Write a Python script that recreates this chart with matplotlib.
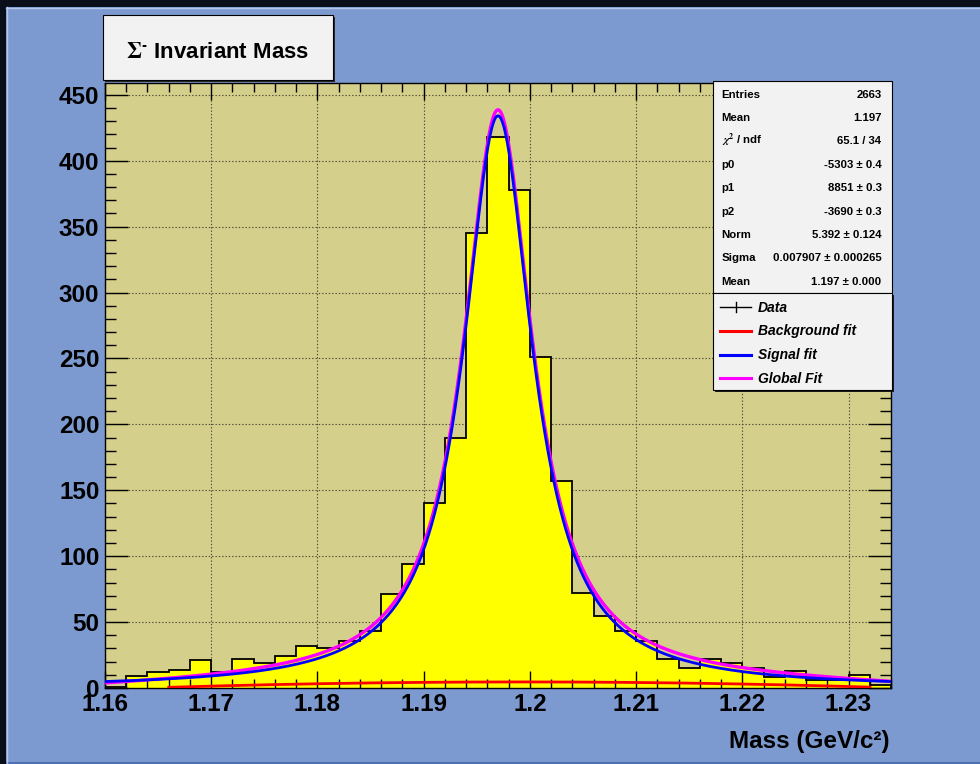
import numpy as np
import matplotlib
matplotlib.use("Agg")
import matplotlib.pyplot as plt
from matplotlib.patches import Rectangle
from matplotlib.lines import Line2D
from matplotlib.ticker import MultipleLocator, FuncFormatter

plt.rcParams["font.family"] = ["Liberation Sans", "DejaVu Sans"]
plt.rcParams["font.weight"] = "bold"
plt.rcParams["mathtext.fontset"] = "stix"

# Sigma- candidate mass histogram, 2 MeV bins
bin_low, bin_high, bin_width = 1.16, 1.234, 0.002
counts = [1, 9, 12, 14, 21, 12, 22, 19, 24, 32, 30, 36, 43, 71, 94, 140,
          190, 345, 418, 378, 251, 157, 72, 55, 43, 36, 22, 15, 22, 19, 15,
          8, 13, 6, 6, 10, 2]

# fit results: pol2 background + Breit-Wigner signal
entries = 2663
hist_mean = 1.197
chi2, ndf = 65.1, 34
p0, p0_err = -5303, 0.4
p1, p1_err = 8851, 0.3
p2, p2_err = -3690, 0.3
norm, norm_err = 5.392, 0.124
sigma, sigma_err = 0.007907, 0.000265
bw_mean, bw_mean_err = 1.197, 0.000
bkg_range = (1.166, 1.232)

legend_labels = ["Data", "Background fit", "Signal fit", "Global Fit"]

W, H = 980, 764
canvas_col = "#7D9AD0"
frame_col = "#D4CF8A"


def fx(x):
    return x / W


def fy(y):
    return 1 - y / H


def background(x):
    return p0 + p1 * x + p2 * x ** 2


def signal(x):
    return norm * (sigma / (2 * np.pi)) / ((x - bw_mean) ** 2 + sigma ** 2 / 4)


fig = plt.figure(figsize=(W / 100, H / 100), dpi=100, facecolor="#0a0e18")

# canvas panel
fig.add_artist(Rectangle((fx(6), 0), 1 - fx(6), fy(7), transform=fig.transFigure,
                         facecolor=canvas_col, edgecolor="none", zorder=-10))
fig.add_artist(Rectangle((fx(6), 0), 1 - fx(6), 2 / H, transform=fig.transFigure,
                         facecolor="#4C6EB2", edgecolor="none", zorder=-9))
fig.add_artist(Line2D([fx(6), 1], [fy(7.5), fy(7.5)], transform=fig.transFigure,
                      color="#B4C6EA", lw=1, zorder=-8))
fig.add_artist(Line2D([fx(6.5), fx(6.5)], [0, fy(7)], transform=fig.transFigure,
                      color="#B4C6EA", lw=1, zorder=-8))

ax = fig.add_axes([fx(105), fy(688), fx(891) - fx(105), (688 - 83) / H])
ax.set_facecolor(frame_col)
ax.set_xlim(bin_low, bin_high)
ax.set_ylim(0, 459)

edges = np.arange(len(counts) + 1) * bin_width + bin_low
ax.stairs(counts, edges, fill=True, color="#FFFF00", zorder=1)
ax.stairs(counts, edges, baseline=0, color="black", lw=1.3, zorder=1.5)

x = np.linspace(bin_low, bin_high, 800)
xb = np.linspace(*bkg_range, 400)
ax.plot(x, signal(x) + background(x), color="#FF00FF", lw=2.4, zorder=3)
ax.plot(xb, background(xb), color="#FF0000", lw=2.0, zorder=3.1)
ax.plot(x, signal(x), color="#0000FF", lw=2.0, zorder=3.2)

# dotted grid under the histogram
for gx in np.arange(1.17, 1.2305, 0.01):
    ax.axvline(gx, color="#4a4a3a", lw=0.8, ls=(0, (1.2, 1.8)), zorder=0.5)
for gy in range(50, 451, 50):
    ax.axhline(gy, color="#4a4a3a", lw=0.8, ls=(0, (1.2, 1.8)), zorder=0.5)

ax.xaxis.set_major_locator(MultipleLocator(0.01))
ax.xaxis.set_minor_locator(MultipleLocator(0.002))
ax.yaxis.set_major_locator(MultipleLocator(50))
ax.yaxis.set_minor_locator(MultipleLocator(10))
ax.xaxis.set_major_formatter(FuncFormatter(lambda v, _: f"{v:g}"))
ax.tick_params(direction="in", top=True, right=True, which="both",
               color="black", width=1, labelsize=17.5)
ax.tick_params(axis="x", which="major", length=12.5, pad=3.5)
ax.tick_params(axis="x", which="minor", length=6.5)
ax.tick_params(axis="y", which="major", length=16.5, pad=4)
ax.tick_params(axis="y", which="minor", length=8)
for sp in ax.spines.values():
    sp.set_linewidth(1)
    sp.set_color("black")

fig.text(fx(890), fy(748), "Mass (GeV/c²)", fontsize=17.5, ha="right",
         va="baseline")

# title box
fig.add_artist(Rectangle((fx(105), fy(81.5)), fx(333) - fx(103), (81.5 - 17) / H,
                         transform=fig.transFigure, facecolor="#2a2a2a",
                         edgecolor="none", zorder=4))
fig.add_artist(Rectangle((fx(103), fy(79.5)), fx(333) - fx(103), (79.5 - 15) / H,
                         transform=fig.transFigure, facecolor="#F2F2F2",
                         edgecolor="black", lw=0.8, zorder=5))
fig.text(fx(218), fy(58.3), r"$\Sigma^{\text{-}}$ Invariant Mass", fontsize=16,
         ha="center", va="baseline", zorder=6)

# statistics box
sx0, sx1, sy0, sy1 = 712.5, 891.5, 81, 292.5
fig.add_artist(Rectangle((fx(sx0 + 1.5), fy(sy1 + 1.5)), fx(sx1) - fx(sx0),
                         (sy1 - sy0) / H, transform=fig.transFigure,
                         facecolor="#2a2a2a", edgecolor="none", zorder=4))
fig.add_artist(Rectangle((fx(sx0), fy(sy1)), fx(sx1) - fx(sx0), (sy1 - sy0) / H,
                         transform=fig.transFigure, facecolor="#F2F2F2",
                         edgecolor="black", lw=0.8, zorder=5))
stats_rows = [
    ("Entries", f"{entries}"),
    ("Mean", f"{hist_mean:.3f}"),
    (r"$\chi^{2}$ / ndf", f"{chi2:.1f} / {ndf}"),
    ("p0", f"{p0} ± {p0_err}"),
    ("p1", f"{p1} ± {p1_err}"),
    ("p2", f"{p2} ± {p2_err}"),
    ("Norm", f"{norm:.3f} ± {norm_err:.3f}"),
    ("Sigma", f"{sigma:.6f} ± {sigma_err:.6f}"),
    ("Mean", f"{bw_mean:.3f} ± {bw_mean_err:.3f}"),
]
for i, (name, val) in enumerate(stats_rows):
    yb = 93.3 + i * 23.4 + 4.3
    fig.text(fx(721.5), fy(yb), name, fontsize=8.2, ha="left", va="baseline",
             zorder=6)
    fig.text(fx(881.5), fy(yb), val, fontsize=8.2, ha="right", va="baseline",
             zorder=6)

# legend box
lx0, lx1, ly0, ly1 = 713, 891.5, 293, 389.5
fig.add_artist(Rectangle((fx(lx0 + 2), fy(ly1 + 2)), fx(lx1) - fx(lx0),
                         (ly1 - ly0) / H, transform=fig.transFigure,
                         facecolor="#1a1a1a", edgecolor="none", zorder=4))
fig.add_artist(Rectangle((fx(lx0), fy(ly1)), fx(lx1) - fx(lx0), (ly1 - ly0) / H,
                         transform=fig.transFigure, facecolor="#F2F2F2",
                         edgecolor="black", lw=0.8, zorder=5))
legend_colors = ["black", "#FF0000", "#0000FF", "#FF00FF"]
for i, (lab, col) in enumerate(zip(legend_labels, legend_colors)):
    yc = 306.5 + i * 24
    lw = 1.0 if i == 0 else 2.2
    fig.add_artist(Line2D([fx(720), fx(751)], [fy(yc), fy(yc)],
                          transform=fig.transFigure, color=col, lw=lw, zorder=6))
    if i == 0:
        fig.add_artist(Line2D([fx(735.5), fx(735.5)], [fy(yc - 5), fy(yc + 5)],
                              transform=fig.transFigure, color=col, lw=1.0,
                              zorder=6))
    fig.text(fx(758), fy(yc + 5), lab, fontsize=10, style="italic",
             ha="left", va="baseline", zorder=6)

fig.savefig("out.png", dpi=100, facecolor=fig.get_facecolor())
